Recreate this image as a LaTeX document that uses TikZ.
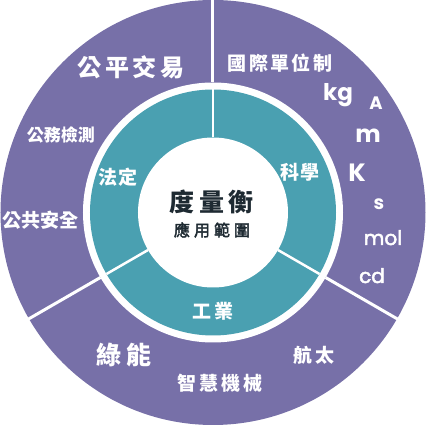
\documentclass[tikz,border=0pt]{standalone}
\usepackage{fontspec}
\newfontfamily\cjk{Noto Sans CJK TC}
\newfontfamily\latf{Poppins}
\definecolor{RPurple}{RGB}{119,112,168}
\definecolor{RTeal}{RGB}{74,160,177}
\definecolor{RInk}{RGB}{30,42,50}
\newcommand{\fsz}[1]{\fontsize{#1}{#1}\selectfont}
\newcommand{\spaced}[1]{\addfontfeature{LetterSpace=#1}}
\newcommand{\medium}{\addfontfeature{FakeBold=2.5}}
\tikzset{
	cjklbl/.style={white, inner sep=0pt},
	unitlbl/.style={white, inner sep=0pt, anchor=base},
}

\begin{document}
\begin{tikzpicture}[x=1pt, y=1pt]
		\useasboundingbox (-213,-212.5) rectangle (213,212.5);
		
		% -- Rings ---------------------------------------------------
		\def\Rout{212.5}
		\def\Rgap{130}
		\def\Rteal{123}
		\def\Rin{75}
		\fill[RPurple] (0,0) circle (\Rout);
		\fill[white] (0,0) circle (\Rgap);
		\fill[RTeal] (0,0) circle (\Rteal);
		\foreach \a in {90,210,330}{%
			\draw[white, line width=3pt] (\a:\Rgap) -- (\a:\Rout+2);
			\draw[white, line width=2.5pt] (\a:\Rin) -- (\a:\Rteal);
		}
		\fill[white] (0,0) circle (\Rin);
		
		% -- Center --------------------------------------------------
		\node[inner sep=0pt, RInk, font=\cjk\bfseries\fsz{25}\spaced{18}] (title) at (-1,10.5) {度量衡};
		\node[inner sep=0pt, RInk, font=\cjk\medium\fsz{16}\spaced{25}] (subtitle) at (-1,-17.5) {應用範圍};
		
		% -- Teal ring -----------------------------------------------
		\node[cjklbl, font=\cjk\bfseries\fsz{19}\spaced{10}] (legal) at (-95,35.5) {法定};
		\node[cjklbl, font=\cjk\bfseries\fsz{19}\spaced{10}] (science) at (87,40.5) {科學};
		\node[cjklbl, font=\cjk\bfseries\fsz{19}\spaced{20}] (industry) at (0,-98.5) {工業};
		
		% -- Left sector ---------------------------------------------
		\node[cjklbl, font=\cjk\bfseries\fsz{24}\spaced{15}] (trade) at (-82,145.5) {公平交易};
		\node[cjklbl, font=\cjk\bfseries\fsz{17}] (inspect) at (-152,77.5) {公務檢測};
		\node[cjklbl, font=\cjk\bfseries\fsz{19}] (safety) at (-172,-7.5) {公共安全};
		
		% -- Right sector (SI units) ---------------------------------
		\node[cjklbl, font=\cjk\bfseries\fsz{19}\spaced{12}] (si) at (67,149.5) {國際單位制};
		\node[unitlbl, font=\latf\bfseries\fsz{23}] (kg) at (125,112) {kg};
		\node[unitlbl, font=\latf\bfseries\fsz{18}] (amp) at (163,103) {A};
		\node[unitlbl, font=\latf\bfseries\fsz{24}] (metre) at (155,69.5) {m};
		\node[unitlbl, font=\latf\bfseries\fsz{25}] (kelvin) at (144,30.5) {K};
		\node[unitlbl, font=\latf\bfseries\fsz{19}] (sec) at (166,2.5) {s};
		\node[unitlbl, font=\latf\medium\fsz{20}] (mol) at (170,-32.5) {mol};
		\node[unitlbl, font=\latf\medium\fsz{20}] (cd) at (159,-70.5) {cd};
		
		% -- Bottom sector -------------------------------------------
		\node[cjklbl, font=\cjk\bfseries\fsz{25}\spaced{20}] (green) at (-89,-142.5) {綠能};
		\node[cjklbl, font=\cjk\bfseries\fsz{19}\spaced{15}] (smart) at (7,-170.5) {智慧機械};
		\node[cjklbl, font=\cjk\bfseries\fsz{19}\spaced{20}] (aero) at (101,-142.5) {航太};
		
	\end{tikzpicture}
\end{document}
